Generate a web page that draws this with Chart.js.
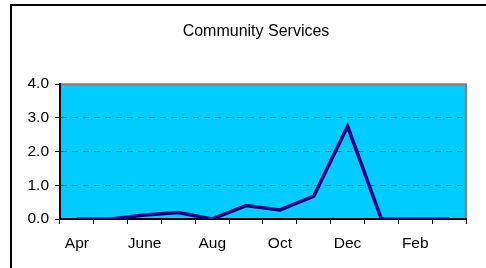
<!DOCTYPE html>
<html>
<head>
<meta charset="utf-8">
<script src="https://cdn.jsdelivr.net/npm/chart.js@4"></script>
<style>
  html, body { margin: 0; padding: 0; background: #fff; overflow: hidden; }
  body { width: 486px; height: 268px; position: relative; }
  #frame {
    position: absolute; left: 10px; top: 4px;
    width: 488px; height: 262px;
    border-left: 2px solid #000; border-top: 2px solid #000;
  }
  #chartLine { display: block; }
</style>
</head>
<body>
<div id="frame">
  <canvas id="chartLine" width="488" height="262"></canvas>
</div>
<script>
// data
const months = ["Apr", "May", "June", "July", "Aug", "Sept", "Oct", "Nov", "Dec", "Jan", "Feb", "Mar"];
const services = [0, 0, 0.12, 0.19, 0, 0.4, 0.27, 0.68, 2.75, 0, 0, 0];
const yTicks = [0, 1, 2, 3, 4];

// cyan plot area + gray top/right border
const plotBg = {
  id: "plotBg",
  beforeDraw(chart) {
    const { ctx, chartArea: a } = chart;
    ctx.save();
    ctx.fillStyle = "#00ccff";
    ctx.fillRect(a.left, a.top, a.right - a.left, a.bottom - a.top);
    ctx.strokeStyle = "#808080";
    ctx.lineWidth = 2;
    ctx.beginPath();
    ctx.moveTo(a.left, a.top);
    ctx.lineTo(a.right, a.top);
    ctx.lineTo(a.right, a.bottom);
    ctx.stroke();
    ctx.restore();
  }
};

document.addEventListener("DOMContentLoaded", function () {
  const ctx = document.getElementById("chartLine").getContext("2d");
  new Chart(ctx, {
    type: "line",
    data: {
      labels: months,
      datasets: [{
        label: "Community Services",
        data: services,
        borderColor: "#000080",
        borderWidth: 3.5,
        pointRadius: 0,
        tension: 0,
        fill: false
      }]
    },
    options: {
      responsive: false,
      animation: false,
      layout: { padding: 0 },
      plugins: {
        legend: { display: false },
        tooltip: { enabled: false },
        title: {
          display: true,
          text: "Community Services",
          color: "#000",
          font: { family: "Liberation Sans", size: 16, weight: "normal" },
          padding: { top: 16, bottom: 43 }
        }
      },
      scales: {
        x: {
          offset: true,
          grid: { offset: true, drawOnChartArea: false, tickLength: 5, tickColor: "#000" },
          border: { color: "#000", width: 2 },
          ticks: {
            autoSkip: false,
            maxRotation: 0,
            padding: 10,
            color: "#000",
            font: { family: "Liberation Sans", size: 15.5 },
            callback: (v, i) => (i % 2 === 0 ? months[i] : "")
          },
          afterFit: (s) => { s.height = 49; }
        },
        y: {
          min: 0,
          max: 4,
          afterBuildTicks: (s) => { s.ticks = yTicks.map(v => ({ value: v })); },
          grid: {
            color: (c) => (c.tick && c.tick.value > 0 && c.tick.value < 4 ? "#8a3f5e" : "rgba(0,0,0,0)"),
            lineWidth: 1,
            tickLength: 5,
            tickColor: "#000",
            tickBorderDash: [1, 0]
          },
          border: { color: "#000", width: 2, dash: [6, 5] },
          ticks: {
            padding: 6,
            color: "#000",
            font: { family: "Liberation Sans", size: 15.5 },
            callback: (v) => Number(v).toFixed(1)
          },
          afterFit: (s) => { s.width = 48; }
        },
        // empty right axis, only to leave the white gap right of the plot
        yGap: {
          position: "right",
          display: true,
          grid: { display: false, drawTicks: false },
          border: { display: false },
          ticks: { display: false },
          afterFit: (s) => { s.width = 34; }
        }
      }
    },
    plugins: [plotBg]
  });
});
</script>
</body>
</html>
